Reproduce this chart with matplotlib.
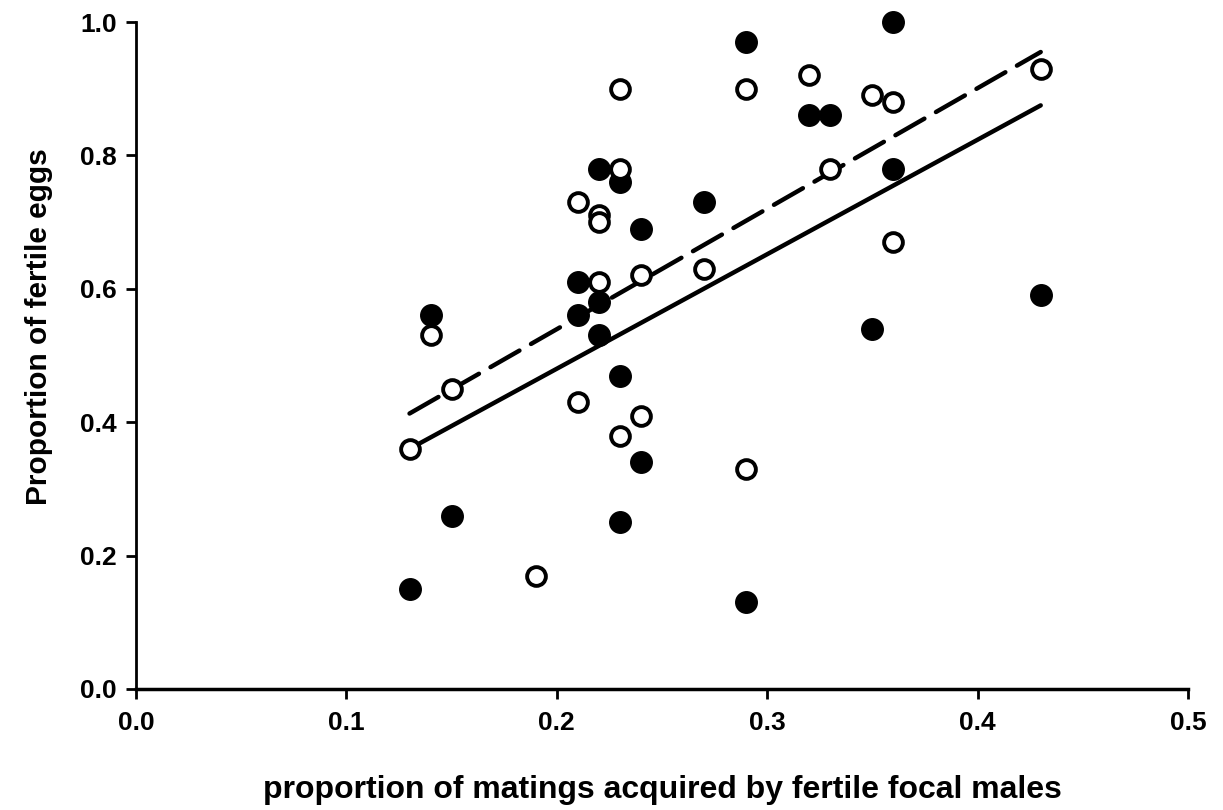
import matplotlib
matplotlib.use("Agg")
import matplotlib.pyplot as plt

# Filled circles
filled_x = [0.13, 0.14, 0.15, 0.21, 0.21, 0.22, 0.22, 0.22, 0.23, 0.23, 0.23,
            0.24, 0.24, 0.27, 0.29, 0.29, 0.32, 0.33, 0.35, 0.36, 0.36, 0.43]
filled_y = [0.15, 0.56, 0.26, 0.61, 0.56, 0.78, 0.58, 0.53, 0.76, 0.47, 0.25,
            0.69, 0.34, 0.73, 0.97, 0.13, 0.86, 0.86, 0.54, 1.00, 0.78, 0.59]

# Open circles
open_x = [0.13, 0.14, 0.15, 0.19, 0.21, 0.21, 0.22, 0.22, 0.22, 0.23, 0.23, 0.23,
          0.24, 0.24, 0.27, 0.29, 0.29, 0.32, 0.33, 0.35, 0.36, 0.36, 0.43]
open_y = [0.36, 0.53, 0.45, 0.17, 0.73, 0.43, 0.71, 0.70, 0.61, 0.90, 0.78, 0.38,
          0.62, 0.41, 0.63, 0.90, 0.33, 0.92, 0.78, 0.89, 0.88, 0.67, 0.93]

# Regression lines (endpoints)
fit_x = [0.13, 0.43]
solid_y = [0.36, 0.875]
dashed_y = [0.413, 0.955]

x_ticks = [0.0, 0.1, 0.2, 0.3, 0.4, 0.5]
y_ticks = [0.0, 0.2, 0.4, 0.6, 0.8, 1.0]

plt.rcParams['font.family'] = ['Liberation Sans', 'DejaVu Sans']
plt.rcParams['font.weight'] = 'bold'

fig = plt.figure(figsize=(12.23, 8.10), dpi=100)
ax = fig.add_axes([136/1223, 1 - 689/810, (1188-136)/1223, (689-22)/810])

ax.plot(fit_x, solid_y, color='black', lw=3.2, solid_capstyle='round', zorder=2)
ax.plot(fit_x, dashed_y, color='black', lw=3.2, dashes=(7.5, 3.0), dash_capstyle='round', zorder=2)

ax.plot(filled_x, filled_y, 'o', ms=15.5, color='black', zorder=3, clip_on=False)
ax.plot(open_x, open_y, 'o', ms=13.5, mfc='white', mec='black', mew=2.8, zorder=4, clip_on=False)

ax.set_xlim(0, 0.5)
ax.set_ylim(0, 1.0)
ax.set_xticks(x_ticks)
ax.set_yticks(y_ticks)
ax.set_xticklabels([f"{v:.1f}" for v in x_ticks], fontsize=19, fontweight='bold')
ax.set_yticklabels([f"{v:.1f}" for v in y_ticks], fontsize=19, fontweight='bold')
ax.spines['top'].set_visible(False)
ax.spines['right'].set_visible(False)
ax.spines['left'].set_linewidth(2)
ax.spines['bottom'].set_linewidth(2.5)
ax.tick_params(axis='both', direction='out', length=7, width=2)
ax.tick_params(axis='y', pad=7)
ax.tick_params(axis='x', pad=9)

ax.set_xlabel("proportion of matings acquired by fertile focal males",
              fontsize=23, fontweight='bold')
ax.xaxis.set_label_coords(0.5, -(790 - 689) / 667, transform=ax.transAxes)
ax.xaxis.label.set_va('center')
ax.set_ylabel("Proportion of fertile eggs", fontsize=21.5, fontweight='bold')
ax.yaxis.set_label_coords(-(136 - 39) / 1052, (689 - 327) / 667, transform=ax.transAxes)
ax.yaxis.label.set_va('center')

fig.savefig("out.png", dpi=100)
